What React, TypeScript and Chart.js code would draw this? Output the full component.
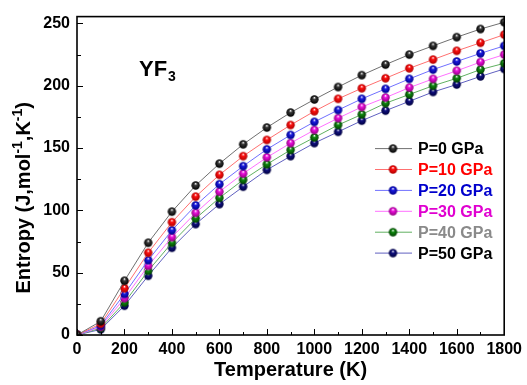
import React, { useEffect, useRef } from "react";
import { Chart, registerables } from "chart.js";

Chart.register(...registerables);

// ---- data ----
const temperatures = [0, 100, 200, 300, 400, 500, 600, 700, 800, 900, 1000, 1100, 1200, 1300, 1400, 1500, 1600, 1700, 1800];
const p0 = [0, 11, 43.5, 74, 99, 120, 137.5, 153, 166.5, 178.5, 189, 199, 208.5, 217, 225, 232, 239, 245.5, 251];
const p10 = [0, 9, 37.5, 66, 90.5, 111, 128.5, 143.5, 156.5, 168.5, 179.5, 189.5, 198, 206, 214, 221, 228, 234.5, 241];
const p20 = [0, 7.5, 33, 60, 84, 104, 121, 135.5, 149, 160.5, 171, 180.5, 189.5, 197.5, 205.5, 213, 219.5, 226, 232];
const p30 = [0, 6.5, 29.5, 55.5, 78.5, 98, 115, 129.5, 142.5, 154, 164.5, 174, 183, 190.5, 198.5, 205.5, 212, 219, 225];
const p40 = [0, 5.5, 26, 51.5, 74, 93.5, 110, 124.5, 137, 148.5, 158.5, 168.5, 177, 186, 193, 200, 206, 213, 218];
const p50 = [0, 4.5, 23.5, 47.5, 70, 89, 105, 119, 132.5, 143.5, 154, 163, 172, 180, 187.5, 195, 201, 207.5, 213.5];

const seriesLabels = ["P=0 GPa", "P=10 GPa", "P=20 GPa", "P=30 GPa", "P=40 GPa", "P=50 GPa"];
const seriesValues = [p0, p10, p20, p30, p40, p50];
const ballColors = ["#3a3a3a", "#ff1010", "#1a1adf", "#f010e0", "#108a10", "#101080"];
const ballDark = ["#000000", "#b00000", "#00008a", "#900080", "#004000", "#000040"];
const lineColors = ["#707070", "#ff7070", "#7070ff", "#ff70ff", "#60b060", "#6060c0"];
const legendTextColors = ["#000000", "#ff0000", "#0000cc", "#e000d0", "#8a8a8a", "#000000"];

const xMajorTicks = [0, 200, 400, 600, 800, 1000, 1200, 1400, 1600, 1800];
const xMinorTicks = [100, 300, 500, 700, 900, 1100, 1300, 1500, 1700];
const yMajorTicks = [0, 50, 100, 150, 200, 250];
const yMinorTicks = [25, 75, 125, 175, 225];

const FONT = "'Liberation Sans', Arial, sans-serif";

function makeSphere(color: string, dark: string, r: number) {
  const size = Math.ceil(r * 2) + 2;
  const c = document.createElement("canvas");
  c.width = size;
  c.height = size;
  const ctx = c.getContext("2d")!;
  const cx = size / 2;
  const cy = size / 2;
  const g = ctx.createRadialGradient(cx, cy - r * 0.45, r * 0.05, cx, cy, r);
  g.addColorStop(0, "#ffffff");
  g.addColorStop(0.3, color);
  g.addColorStop(1, dark);
  ctx.fillStyle = g;
  ctx.beginPath();
  ctx.arc(cx, cy, r, 0, Math.PI * 2);
  ctx.fill();
  return c;
}

const framePlugin = {
  id: "frameAndTicks",
  afterDatasetsDraw(chart: any) {
    const { ctx, chartArea: a, scales } = chart;
    const x = scales.x;
    const y = scales.y;
    ctx.save();
    ctx.strokeStyle = "#000";
    ctx.lineWidth = 1;
    ctx.beginPath();
    xMajorTicks.forEach((v) => {
      const px = Math.round(x.getPixelForValue(v)) + 0.5;
      ctx.moveTo(px, a.bottom);
      ctx.lineTo(px, a.bottom - 6);
    });
    xMinorTicks.forEach((v) => {
      const px = Math.round(x.getPixelForValue(v)) + 0.5;
      ctx.moveTo(px, a.bottom);
      ctx.lineTo(px, a.bottom - 3);
    });
    yMajorTicks.forEach((v) => {
      const py = Math.round(y.getPixelForValue(v)) + 0.5;
      ctx.moveTo(a.left, py);
      ctx.lineTo(a.left + 6, py);
    });
    yMinorTicks.forEach((v) => {
      const py = Math.round(y.getPixelForValue(v)) + 0.5;
      ctx.moveTo(a.left, py);
      ctx.lineTo(a.left + 4, py);
    });
    ctx.stroke();
    ctx.lineWidth = 1.6;
    ctx.strokeRect(a.left, a.top, a.right - a.left, a.bottom - a.top);

    // compound label
    ctx.fillStyle = "#000";
    ctx.textBaseline = "alphabetic";
    ctx.textAlign = "left";
    ctx.font = `bold 22px ${FONT}`;
    const lx = a.left + 62;
    const ly = a.top + 59;
    ctx.fillText("YF", lx, ly);
    const w = ctx.measureText("YF").width;
    ctx.font = `bold 14px ${FONT}`;
    ctx.fillText("3", lx + w + 1, ly + 5);

    // legend
    chart.data.datasets.forEach((ds: any, i: number) => {
      const rowY = a.top + 132 + i * 20.9;
      const x0 = a.left + 298;
      ctx.strokeStyle = lineColors[i];
      ctx.lineWidth = 1;
      ctx.beginPath();
      ctx.moveTo(x0, rowY);
      ctx.lineTo(x0 + 37, rowY);
      ctx.stroke();
      const img = ds.pointStyle as HTMLCanvasElement;
      ctx.drawImage(img, x0 + 18 - img.width / 2, rowY - img.height / 2);
      ctx.font = `bold 16px ${FONT}`;
      ctx.fillStyle = legendTextColors[i];
      ctx.textBaseline = "middle";
      ctx.fillText(ds.label, x0 + 43, rowY + 1);
    });

    // y axis title with superscripts
    ctx.save();
    const tx = 23;
    const ty = (a.top + a.bottom) / 2 + 22;
    ctx.translate(tx, ty);
    ctx.rotate(-Math.PI / 2);
    ctx.fillStyle = "#000";
    ctx.textBaseline = "middle";
    ctx.textAlign = "left";
    const parts: [string, boolean][] = [
      ["Entropy (J,mol", false],
      ["-1", true],
      [",K", false],
      ["-1", true],
      [")", false],
    ];
    const big = `bold 20px ${FONT}`;
    const small = `bold 14px ${FONT}`;
    let total = 0;
    parts.forEach(([t, sup]) => {
      ctx.font = sup ? small : big;
      total += ctx.measureText(t).width;
    });
    let cx = -total / 2;
    parts.forEach(([t, sup]) => {
      ctx.font = sup ? small : big;
      ctx.fillText(t, cx, sup ? -5 : 1);
      cx += ctx.measureText(t).width;
    });
    ctx.restore();

    ctx.restore();
  },
};

export default function App() {
  const ref = useRef<HTMLCanvasElement | null>(null);
  useEffect(() => {
    if (!ref.current) return;
    const datasets = seriesValues.map((vals, i) => ({
      label: seriesLabels[i],
      data: temperatures.map((t, j) => ({ x: t, y: vals[j] })),
      borderColor: lineColors[i],
      backgroundColor: ballColors[i],
      borderWidth: 1,
      pointStyle: makeSphere(ballColors[i], ballDark[i], 4.2),
      pointRadius: 4,
      tension: 0,
    }));
    const chart = new Chart(ref.current, {
      type: "line",
      data: { datasets },
      options: {
        animation: false,
        responsive: true,
        maintainAspectRatio: false,
        layout: { padding: { top: 13, right: 18, left: 0, bottom: 0 } },
        plugins: { legend: { display: false }, tooltip: { enabled: false } },
        scales: {
          x: {
            type: "linear",
            min: 0,
            max: 1800,
            grid: { display: false, drawTicks: false },
            border: { display: false },
            afterBuildTicks: (s: any) => {
              s.ticks = xMajorTicks.map((v) => ({ value: v }));
            },
            afterFit: (s: any) => {
              s.height = 50;
            },
            ticks: {
              padding: 5,
              color: "#000",
              maxRotation: 0,
              autoSkip: false,
              callback: (v: any) => String(v),
              font: { family: FONT, size: 16, weight: "bold" },
            },
            title: {
              display: true,
              text: "Temperature (K)",
              color: "#000",
              padding: 0,
              font: { family: FONT, size: 20, weight: "bold", lineHeight: 1.5 },
            },
          },
          y: {
            type: "linear",
            min: 0,
            max: 255.5,
            grid: { display: false, drawTicks: false },
            border: { display: false },
            afterBuildTicks: (s: any) => {
              s.ticks = yMajorTicks.map((v) => ({ value: v }));
            },
            afterFit: (s: any) => {
              s.width = 77;
            },
            ticks: {
              padding: 7,
              color: "#000",
              autoSkip: false,
              callback: (v: any) => String(v),
              font: { family: FONT, size: 16, weight: "bold" },
            },
          },
        },
      },
      plugins: [framePlugin],
    } as any);
    return () => chart.destroy();
  }, []);
  return (
    <div style={{ position: "absolute", left: 0, top: 0, width: 527, height: 385, background: "#fff" }}>
      <canvas ref={ref} />
    </div>
  );
}
